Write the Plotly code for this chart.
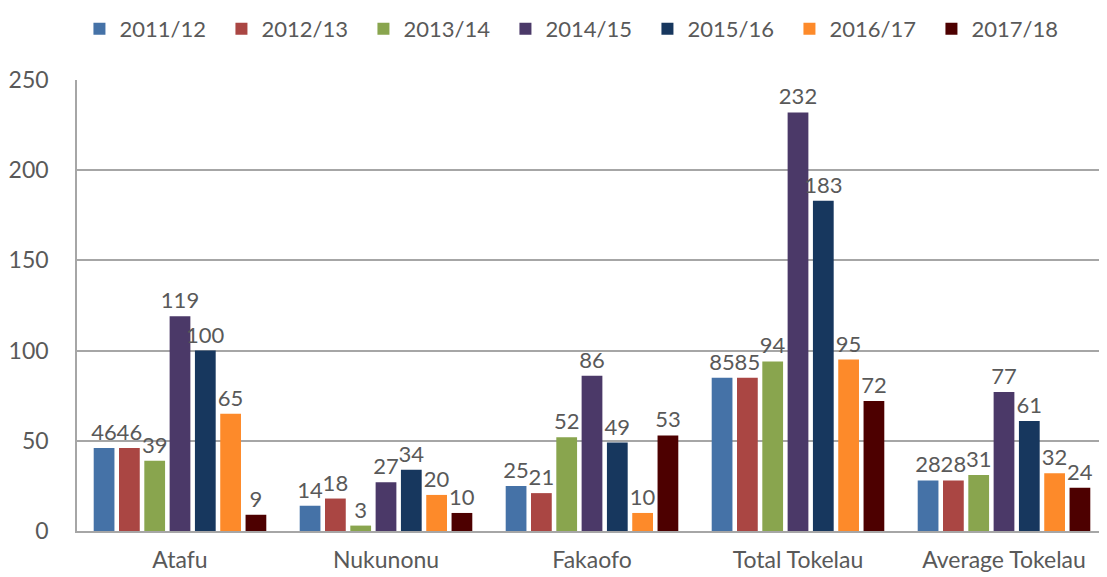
import plotly.graph_objects as go

categories = ["Atafu", "Nukunonu", "Fakaofo", "Total Tokelau", "Average Tokelau"]
years = ["2011/12", "2012/13", "2013/14", "2014/15", "2015/16", "2016/17", "2017/18"]

v_2011 = [46, 14, 25, 85, 28]
v_2012 = [46, 18, 21, 85, 28]
v_2013 = [39, 3, 52, 94, 31]
v_2014 = [119, 27, 86, 232, 77]
v_2015 = [100, 34, 49, 183, 61]
v_2016 = [65, 20, 10, 95, 32]
v_2017 = [9, 10, 53, 72, 24]

series = [v_2011, v_2012, v_2013, v_2014, v_2015, v_2016, v_2017]
colors = ["#4572a7", "#aa4643", "#89a54e", "#4b3968", "#17375e", "#fd8a2a", "#4d0000"]

FONT = "Lato, 'Open Sans', sans-serif"
GREY = "#595959"

fig = go.Figure()
for name, vals, col in zip(years, series, colors):
    fig.add_trace(
        go.Bar(
            x=categories,
            y=vals,
            name=name,
            marker=dict(color=col, line=dict(width=0)),
            text=vals,
            textposition="outside",
            constraintext="none",
            textfont=dict(size=22, color=GREY, family=FONT),
            cliponaxis=False,
        )
    )

# page body has an 8px margin, so the margins below are shifted by that
fig.update_layout(
    width=1107,
    height=577,
    plot_bgcolor="white",
    paper_bgcolor="white",
    barmode="group",
    bargap=0.14,
    bargroupgap=0.18,
    font=dict(family=FONT, size=22, color=GREY),
    margin=dict(l=69, r=8, t=72, b=54, autoexpand=False),
    showlegend=True,
    legend=dict(
        orientation="h",
        x=0.5135,
        xref="container",
        xanchor="center",
        y=1.0,
        yanchor="top",
        yref="container",
        font=dict(size=22, color=GREY),
        entrywidth=97,
        itemwidth=30,
        tracegroupgap=0,
    ),
)
fig.update_yaxes(
    range=[0, 250],
    dtick=50,
    showgrid=True,
    gridcolor="#a6a6a6",
    gridwidth=1.5,
    showline=True,
    linecolor="#a6a6a6",
    linewidth=1.5,
    zeroline=False,
    tickfont=dict(size=23, color=GREY),
    ticks="",
    ticklabelstandoff=22,
    automargin=False,
)
fig.update_xaxes(
    showline=True,
    linecolor="#a6a6a6",
    linewidth=1.5,
    tickfont=dict(size=23, color=GREY),
    ticks="",
    ticklabelstandoff=8,
    automargin=False,
)

fig.write_html("out.html")
